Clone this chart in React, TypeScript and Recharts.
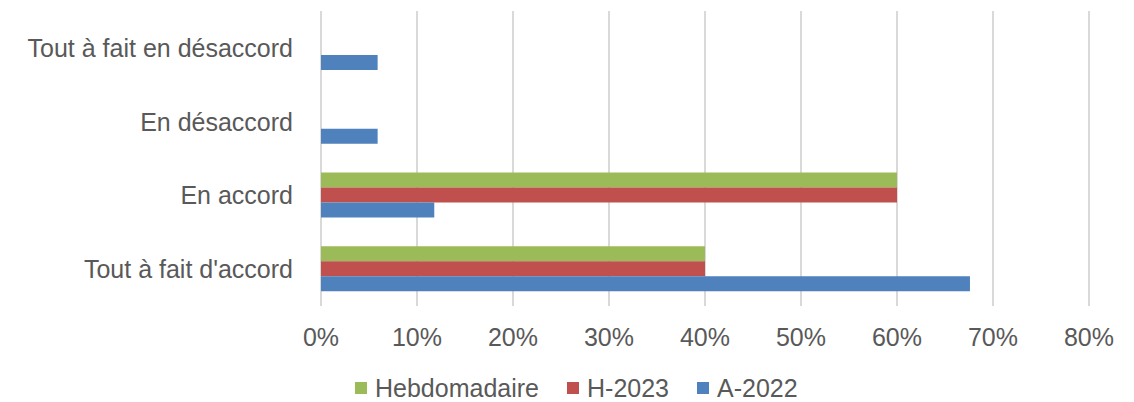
import { BarChart, Bar, XAxis, YAxis, CartesianGrid, Legend } from "recharts";

const categories = [
  "Tout à fait en désaccord",
  "En désaccord",
  "En accord",
  "Tout à fait d'accord",
];
const hebdomadaire = [0, 0, 60, 40];
const h2023 = [0, 0, 60, 40];
const a2022 = [5.9, 5.9, 11.8, 67.6];
const xTicks = [0, 10, 20, 30, 40, 50, 60, 70, 80];

const SERIES = [
  { key: "hebdo", name: "Hebdomadaire", color: "#9BBB59" },
  { key: "h2023", name: "H-2023", color: "#C0504D" },
  { key: "a2022", name: "A-2022", color: "#4F81BD" },
];

const data = categories.map((name, i) => ({
  name,
  hebdo: hebdomadaire[i],
  h2023: h2023[i],
  a2022: a2022[i],
}));

const FONT = "'Liberation Sans', Arial, sans-serif";
const TEXT = "#595959";

function LegendContent() {
  return (
    <div style={{ display: "flex", paddingLeft: 355, paddingTop: 16, fontFamily: FONT, fontSize: 25, lineHeight: "20px", color: TEXT }}>
      {SERIES.map((s) => (
        <div key={s.key} style={{ display: "flex", alignItems: "center", marginRight: 28 }}>
          <span style={{ width: 12, height: 12, background: s.color, display: "inline-block", marginRight: 8 }} />
          <span>{s.name}</span>
        </div>
      ))}
    </div>
  );
}

export default function App() {
  return (
    <div style={{ position: "absolute", left: 0, top: 0, width: 1134, height: 402, background: "#fff" }}>
      <BarChart
        width={1134}
        height={402}
        data={data}
        layout="vertical"
        margin={{ top: 11, right: 45, bottom: 0, left: 0 }}
        barSize={15}
        barGap={0}
      >
        <CartesianGrid horizontal={false} stroke="#D9D9D9" strokeWidth={2} />
        <XAxis
          type="number"
          domain={[0, 80]}
          ticks={xTicks}
          tickFormatter={(v) => `${v}%`}
          axisLine={false}
          tickLine={false}
          tickSize={0}
          tickMargin={22}
          height={56}
          interval={0}
          tick={{ fill: TEXT, fontSize: 25, fontFamily: FONT }}
        />
        <YAxis
          type="category"
          dataKey="name"
          width={321}
          axisLine={false}
          tickLine={false}
          tickSize={0}
          tickMargin={28}
          interval={0}
          tick={{ fill: TEXT, fontSize: 25, fontFamily: FONT }}
        />
        <Legend
          verticalAlign="bottom"
          height={40}
          wrapperStyle={{ left: 0, width: 1134 }}
          content={() => <LegendContent />}
        />
        {SERIES.map((s) => (
          <Bar key={s.key} dataKey={s.key} name={s.name} fill={s.color} isAnimationActive={false} />
        ))}
      </BarChart>
    </div>
  );
}
